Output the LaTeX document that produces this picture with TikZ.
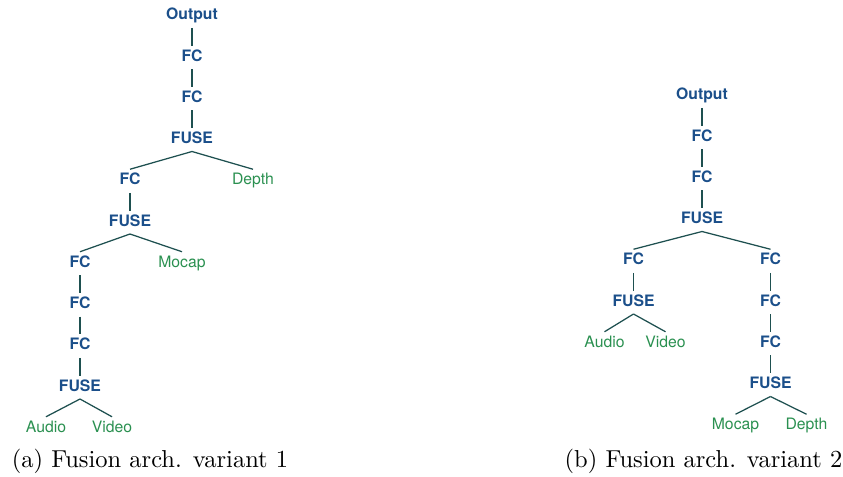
\documentclass[tikz,border=0pt]{standalone}
\usepackage{fontspec}
\setsansfont{TeX Gyre Heros}
\usepackage{tikz}
\usetikzlibrary{positioning}
\definecolor{layerblue}{HTML}{1B4F8A}
\definecolor{inputgreen}{HTML}{2A9050}
\definecolor{edgeteal}{HTML}{1E5050}

\begin{document}
\begin{tikzpicture}[node distance=16.5pt,
  every edge/.style={draw=edgeteal, line width=0.5pt},
  layer/.style={text=layerblue, font=\sffamily\bfseries\fontsize{6.3}{7}\selectfont,
    inner sep=1.4pt, text height=4.6pt, text depth=1.6pt},
  modality/.style={layer, text=inputgreen, font=\sffamily\fontsize{6.3}{7}\selectfont},
  caption/.style={font=\rmfamily\fontsize{9.8}{12}\selectfont, anchor=base}]
  \useasboundingbox (0,0) rectangle (337.2pt,-190.4pt);

  % variant 1
  \node [layer] (out1) at (76.8pt,-6.4pt) {Output};
  \node [layer] (fc1) [below of=out1] {FC};
  \node [layer] (fc2) [below of=fc1] {FC};
  \node [layer] (fuse1) [below of=fc2] {FUSE};
  \node [layer] (fc3) [below of=fuse1, xshift=-24.8pt] {FC};
  \node [modality] (depth1) [below of=fuse1, xshift=24.4pt] {Depth};
  \node [layer] (fuse2) [below of=fc3] {FUSE};
  \node [layer] (fc4) [below of=fuse2, xshift=-20pt] {FC};
  \node [modality] (mocap1) [below of=fuse2, xshift=20.8pt] {Mocap};
  \node [layer] (fc5) [below of=fc4] {FC};
  \node [layer] (fc6) [below of=fc5] {FC};
  \node [layer] (fuse3) [below of=fc6] {FUSE};
  \node [modality] (audio1) [below of=fuse3, xshift=-13.6pt] {Audio};
  \node [modality] (video1) [below of=fuse3, xshift=12.8pt] {Video};

  \path (out1.south) edge (fc1.north);
  \path (fc1.south) edge (fc2.north);
  \path (fc2.south) edge (fuse1.north);
  \path (fuse1.south) edge (fc3.north);
  \path (fuse1.south) edge (depth1.north);
  \path (fc3.south) edge (fuse2.north);
  \path (fuse2.south) edge (fc4.north);
  \path (fuse2.south) edge (mocap1.north);
  \path (fc4.south) edge (fc5.north);
  \path (fc5.south) edge (fc6.north);
  \path (fc6.south) edge (fuse3.north);
  \path (fuse3.south) edge (audio1.north);
  \path (fuse3.south) edge (video1.north);

  % variant 2
  \node [layer] (out2) at (280.8pt,-38.4pt) {Output};
  \node [layer] (fc7) [below of=out2] {FC};
  \node [layer] (fc8) [below of=fc7] {FC};
  \node [layer] (fuse4) [below of=fc8] {FUSE};
  \node [layer] (fc9) [below of=fuse4, xshift=-27.4pt] {FC};
  \node [layer] (fc10) [below of=fuse4, xshift=27.4pt] {FC};
  \node [layer] (fuse5) [below of=fc9] {FUSE};
  \node [modality] (audio2) [below of=fuse5, xshift=-11.6pt] {Audio};
  \node [modality] (video2) [below of=fuse5, xshift=12.8pt] {Video};
  \node [layer] (fc11) [below of=fc10] {FC};
  \node [layer] (fc12) [below of=fc11] {FC};
  \node [layer] (fuse6) [below of=fc12] {FUSE};
  \node [modality] (mocap2) [below of=fuse6, xshift=-14pt] {Mocap};
  \node [modality] (depth2) [below of=fuse6, xshift=14.4pt] {Depth};

  \path (out2.south) edge (fc7.north);
  \path (fc7.south) edge (fc8.north);
  \path (fc8.south) edge (fuse4.north);
  \path (fuse4.south) edge (fc9.north);
  \path (fuse4.south) edge (fc10.north);
  \path (fc9.south) edge (fuse5.north);
  \path (fuse5.south) edge (audio2.north);
  \path (fuse5.south) edge (video2.north);
  \path (fc10.south) edge (fc11.north);
  \path (fc11.south) edge (fc12.north);
  \path (fc12.south) edge (fuse6.north);
  \path (fuse6.south) edge (mocap2.north);
  \path (fuse6.south) edge (depth2.north);

  \node [caption] (capa) at (60pt,-186.8pt) {(a) Fusion arch. variant 1};
  \node [caption] (capb) at (281.4pt,-186.8pt) {(b) Fusion arch. variant 2};
\end{tikzpicture}
\end{document}
